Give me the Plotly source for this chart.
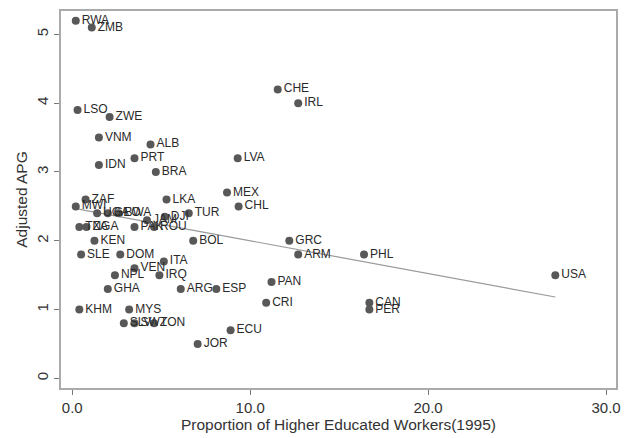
import numpy as np
import plotly.graph_objects as go

# Country codes, share of higher-educated workers (1995, %) and adjusted APG
countries = ["RWA", "ZMB", "LSO", "ZWE", "VNM", "ALB", "PRT", "IDN", "BRA", "LVA",
             "MEX", "CHE", "IRL", "ZAF", "MWI", "UGA", "GEO", "BWA", "LKA", "TUR",
             "JAM", "DJI", "CHL", "TZA", "NGA", "PAK", "ROU", "KEN", "BOL", "GRC",
             "SLE", "DOM", "ARM", "PHL", "ITA", "VEN", "NPL", "IRQ", "USA", "PAN",
             "GHA", "ARG", "ESP", "CRI", "CAN", "PER", "KHM", "MYS", "SLV", "SWZ",
             "TON", "ECU", "JOR"]
higher_edu = [0.2, 1.1, 0.3, 2.1, 1.5, 4.4, 3.5, 1.5, 4.7, 9.3,
              8.7, 11.55, 12.7, 0.75, 0.2, 1.4, 2.0, 2.6, 5.3, 6.55,
              4.2, 5.2, 9.35, 0.4, 0.8, 3.5, 4.6, 1.25, 6.8, 12.2,
              0.5, 2.7, 12.7, 16.4, 5.15, 3.5, 2.4, 4.9, 27.15, 11.2,
              2.0, 6.1, 8.1, 10.9, 16.7, 16.7, 0.4, 3.2, 2.9, 3.5,
              4.6, 8.9, 7.05]
adj_apg = [5.2, 5.1, 3.9, 3.8, 3.5, 3.4, 3.2, 3.1, 3.0, 3.2,
           2.7, 4.2, 4.0, 2.6, 2.5, 2.4, 2.4, 2.4, 2.6, 2.4,
           2.3, 2.35, 2.5, 2.2, 2.2, 2.2, 2.2, 2.0, 2.0, 2.0,
           1.8, 1.8, 1.8, 1.8, 1.7, 1.6, 1.5, 1.5, 1.5, 1.4,
           1.3, 1.3, 1.3, 1.1, 1.1, 1.0, 1.0, 1.0, 0.8, 0.8,
           0.8, 0.7, 0.5]

x_ticks = [0, 10, 20, 30]
y_ticks = [0, 1, 2, 3, 4, 5]

FONT = "Liberation Sans, Arial, sans-serif"

x = np.array(higher_edu)
y = np.array(adj_apg)

# Linear fit over the observed range
slope, intercept = np.polyfit(x, y, 1)
fit_x = np.array([x.min(), x.max()])
fit_y = intercept + slope * fit_x

fig = go.Figure()
fig.add_trace(go.Scatter(
    x=fit_x, y=fit_y, mode="lines",
    line=dict(color="#9a9a9a", width=1.2),
    hoverinfo="skip", showlegend=False,
))
fig.add_trace(go.Scatter(
    x=higher_edu, y=adj_apg, text=countries,
    mode="markers+text", textposition="middle right",
    marker=dict(size=8, color="#585858"),
    textfont=dict(family=FONT, size=12, color="#2a2a2a"),
    showlegend=False,
))

axis_common = dict(
    showgrid=False, zeroline=False,
    showline=True, linecolor="#aaaaaa", linewidth=2, mirror=True,
    ticks="outside", ticklen=5, tickcolor="#777777", tickwidth=1,
    tickfont=dict(family=FONT, size=15, color="#333333"),
)

fig.update_layout(
    width=638, height=438,
    margin=dict(l=61, r=22, t=9, b=46),
    paper_bgcolor="white", plot_bgcolor="white",
    xaxis=dict(
        range=[-0.63, 30.56], tickvals=x_ticks, tickformat=".1f",
        title=dict(text="Proportion of Higher Educated Workers(1995)", standoff=2,
                   font=dict(family=FONT, size=15.5, color="#333333")),
        **axis_common,
    ),
    yaxis=dict(
        range=[-0.14, 5.34], tickvals=y_ticks, tickangle=-90,
        title=dict(text="Adjusted APG", standoff=3,
                   font=dict(family=FONT, size=15.5, color="#333333")),
        **axis_common,
    ),
)

fig.write_html("out.html")
